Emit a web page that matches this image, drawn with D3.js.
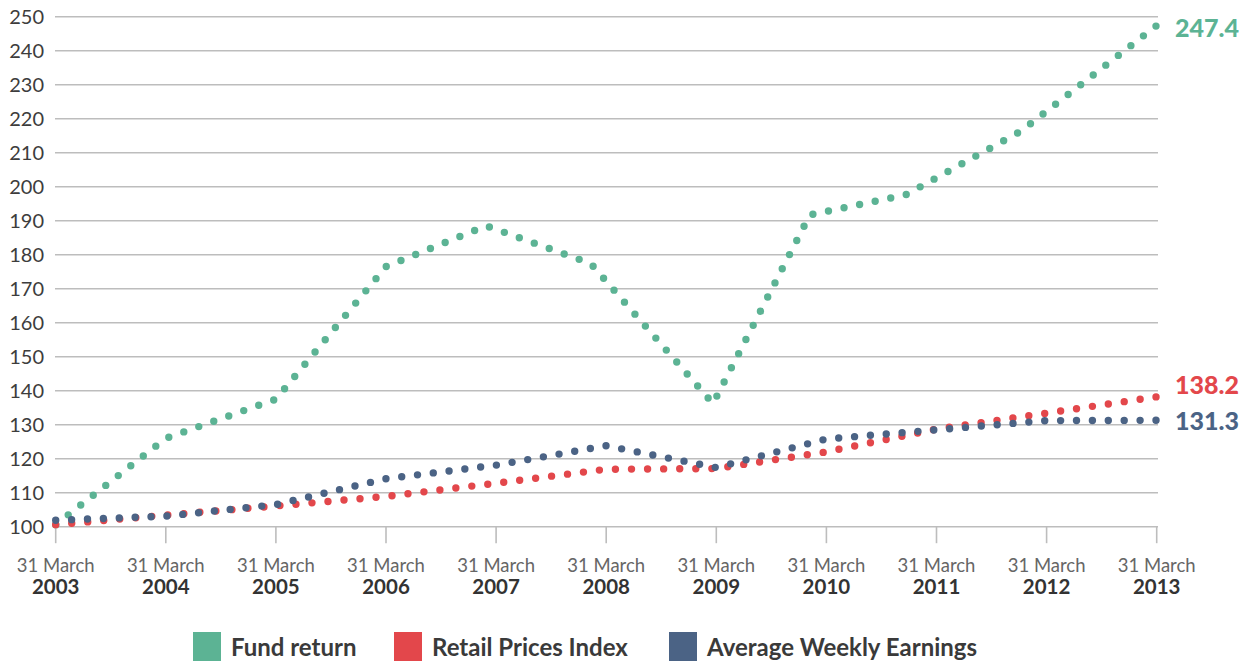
<!DOCTYPE html>
<html>
<head>
<meta charset="utf-8">
<script src="https://cdn.jsdelivr.net/npm/d3@7/dist/d3.min.js"></script>
<style>
  html, body { margin: 0; padding: 0; background: #ffffff; }
  svg { display: block; font-family: Lato, "Open Sans", sans-serif; }
</style>
</head>
<body>
<svg id="chart" width="1252" height="661"></svg>
<script>
// Growth of 100 invested on 31 March 2003, against inflation and earnings
const yearTicks = [2003, 2004, 2005, 2006, 2007, 2008, 2009, 2010, 2011, 2012, 2013];
const yTicks = [100, 110, 120, 130, 140, 150, 160, 170, 180, 190, 200, 210, 220, 230, 240, 250];

// Fund return turning points (fractional years from 31 March)
const fundYears  = [2003, 2004, 2005, 2006, 2006.91, 2007.86, 2008.97, 2009.85, 2010.72, 2011.77, 2013];
const fundValues = [100.6, 126.0, 137.5, 176.5, 188.5, 177.4, 136.2, 191.7, 197.6, 216.4, 247.4];

// Annual readings for the two indices
const indexYears = [2003, 2004, 2005, 2006, 2007, 2008, 2009, 2010, 2011, 2012, 2013];
const rpiValues  = [100.6, 103.4, 106.1, 108.9, 112.8, 116.9, 117.1, 122.0, 128.7, 133.4, 138.2];
const aweValues  = [101.9, 103.1, 106.5, 114.1, 118.1, 123.8, 117.4, 125.8, 128.5, 131.2, 131.3];

const seriesNames = ["Fund return", "Retail Prices Index", "Average Weekly Earnings"];
const seriesColors = ["#5cb394", "#e3474b", "#4b6385"];

const svg = d3.select("#chart");

const x = d3.scaleLinear().domain([2003, 2013]).range([55.7, 1156.7]);
const y = d3.scaleLinear().domain([100, 250]).range([526.7, 16.7]);

const gridColor = "#bdbdbd";

// Horizontal gridlines
svg.append("g")
  .selectAll("line")
  .data(yTicks)
  .join("line")
  .attr("x1", 55)
  .attr("x2", 1158)
  .attr("y1", d => y(d))
  .attr("y2", d => y(d))
  .attr("stroke", gridColor)
  .attr("stroke-width", 1.6);

// Y tick labels
svg.append("g")
  .selectAll("text")
  .data(yTicks)
  .join("text")
  .attr("x", 44)
  .attr("y", d => y(d) + 7.6)
  .attr("text-anchor", "end")
  .attr("font-size", 20)
  .attr("fill", "#3d3d3d")
  .text(d => d);

// Year tick marks below the baseline
svg.append("g")
  .selectAll("line")
  .data(yearTicks)
  .join("line")
  .attr("x1", d => x(d))
  .attr("x2", d => x(d))
  .attr("y1", y(100))
  .attr("y2", y(100) + 16.5)
  .attr("stroke", gridColor)
  .attr("stroke-width", 1.6);

// X labels: date line and bold year
const xl = svg.append("g");
xl.selectAll("text.date")
  .data(yearTicks)
  .join("text")
  .attr("class", "date")
  .attr("x", d => x(d))
  .attr("y", 571.5)
  .attr("text-anchor", "middle")
  .attr("font-size", 18.5)
  .attr("fill", "#666666")
  .text("31 March");
xl.selectAll("text.year")
  .data(yearTicks)
  .join("text")
  .attr("class", "year")
  .attr("x", d => x(d))
  .attr("y", 594)
  .attr("text-anchor", "middle")
  .attr("font-size", 20.5)
  .attr("font-weight", "bold")
  .attr("fill", "#333333")
  .text(d => d);

// Dotted series lines
const line = d3.line()
  .x(d => x(d[0]))
  .y(d => y(d[1]))
  .curve(d3.curveLinear);

const series = [
  { name: seriesNames[0], color: seriesColors[0], pts: d3.zip(fundYears, fundValues) },
  { name: seriesNames[1], color: seriesColors[1], pts: d3.zip(indexYears, rpiValues) },
  { name: seriesNames[2], color: seriesColors[2], pts: d3.zip(indexYears, aweValues) }
];

const lines = svg.append("g");
series.forEach(s => {
  const p = lines.append("path")
    .attr("d", line(s.pts))
    .attr("fill", "none")
    .attr("stroke", s.color)
    .attr("stroke-width", 7.4)
    .attr("stroke-linecap", "round");
  // evenly spaced round dots, the last one sitting on the end point
  const len = p.node().getTotalLength();
  const n = Math.max(1, Math.round(len / 16));
  p.attr("stroke-dasharray", `0 ${len / n - 0.01}`);
});

// End value labels
const endLabels = [
  { v: fundValues[fundValues.length - 1], color: seriesColors[0], dy: 11 },
  { v: rpiValues[rpiValues.length - 1], color: seriesColors[1], dy: -2.8 },
  { v: aweValues[aweValues.length - 1], color: seriesColors[2], dy: 9.7 }
];
svg.append("g")
  .selectAll("text")
  .data(endLabels)
  .join("text")
  .attr("x", 1175)
  .attr("y", d => y(d.v) + d.dy)
  .attr("font-size", 25)
  .attr("font-weight", 900)
  .attr("fill", d => d.color)
  .text(d => d.v.toFixed(1));

// Legend
const legendX = [193, 394, 669];
const lg = svg.append("g");
const items = lg.selectAll("g")
  .data(series)
  .join("g")
  .attr("transform", (d, i) => `translate(${legendX[i]},632)`);
items.append("rect")
  .attr("width", 28)
  .attr("height", 29)
  .attr("fill", d => d.color);
items.append("text")
  .attr("x", 38)
  .attr("y", 23.7)
  .attr("font-size", 24)
  .attr("font-weight", "bold")
  .attr("fill", "#3a3a3a")
  .text(d => d.name);
</script>
</body>
</html>
